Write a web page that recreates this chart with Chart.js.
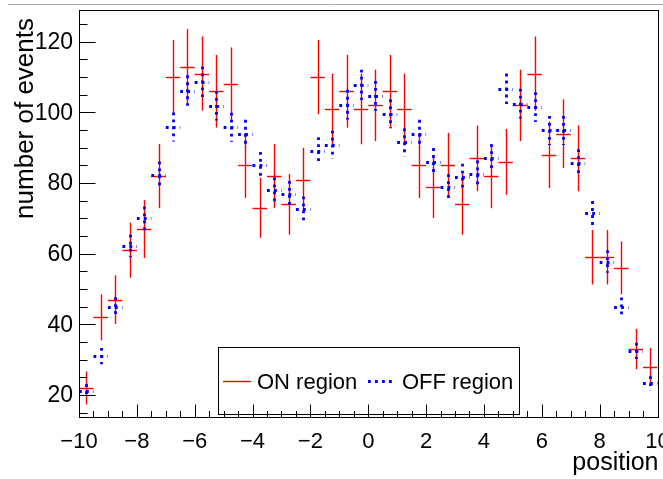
<!DOCTYPE html>
<html>
<head>
<meta charset="utf-8">
<script src="https://cdn.jsdelivr.net/npm/chart.js@4.4.0/dist/chart.umd.min.js"></script>
<style>
  html, body { margin: 0; padding: 0; background: #fff; }
</style>
</head>
<body>
<canvas id="myChart" width="663" height="479"></canvas>
<script>
// histogram bins: 40 bins of width 0.5 between -10 and 10
const binCenters = [-9.75, -9.25, -8.75, -8.25, -7.75, -7.25, -6.75, -6.25, -5.75, -5.25,
  -4.75, -4.25, -3.75, -3.25, -2.75, -2.25, -1.75, -1.25, -0.75, -0.25,
  0.25, 0.75, 1.25, 1.75, 2.25, 2.75, 3.25, 3.75, 4.25, 4.75,
  5.25, 5.75, 6.25, 6.75, 7.25, 7.75, 8.25, 8.75, 9.25, 9.75]
const binHalfWidth = 0.25

const onCounts = [22, 42, 47, 61, 67, 82, 110, 113, 111, 106,
  108, 85, 73, 82, 74, 81, 110, 101, 106, 101,
  102, 106, 101, 85, 79, 85, 74, 87, 82, 86,
  102, 111, 88, 94, 87, 59, 59, 56, 33, 28]
const onErrors = [4.7, 6.5, 6.9, 7.8, 8.2, 9.1, 10.5, 10.6, 10.5, 10.3,
  10.4, 9.2, 8.5, 9.1, 8.6, 9.0, 10.5, 10.0, 10.3, 10.0,
  10.1, 10.3, 10.0, 9.2, 8.9, 9.2, 8.6, 9.3, 9.1, 9.3,
  10.1, 10.5, 9.4, 9.7, 9.3, 7.7, 7.7, 7.5, 5.7, 5.3]

const offCounts = [21.2, 31, 45, 62.2, 70, 82.3, 95.9, 106.2, 108.7, 101.9,
  95.8, 93.9, 85, 78, 77, 72.7, 89.1, 90.8, 102.2, 107.8,
  104.7, 99.6, 91.5, 93.9, 86.1, 78.8, 81.8, 82.6, 87.1, 106.7,
  102.5, 101.5, 94.9, 94.9, 85.8, 71.4, 57.8, 44.8, 32.5, 23.3]
const offErrors = [1.9, 2.3, 2.7, 3.2, 3.4, 3.8, 4.1, 4.3, 4.3, 4.2,
  4.1, 4.0, 3.8, 3.6, 3.6, 3.5, 3.9, 4.0, 4.2, 4.3,
  4.2, 4.1, 4.0, 4.0, 3.8, 3.7, 3.7, 3.8, 3.9, 4.3,
  4.2, 4.2, 4.1, 4.1, 3.8, 3.5, 3.2, 2.8, 2.3, 2.0]

const xTickValues = [-10, -8, -6, -4, -2, 0, 2, 4, 6, 8, 10]
const xTickLabels = ['\u221210', '\u22128', '\u22126', '\u22124', '\u22122', '0', '2', '4', '6', '8', '10']
const yTickValues = [20, 40, 60, 80, 100, 120]
const yTickLabels = ['20', '40', '60', '80', '100', '120']

const seriesNames = ['ON region', 'OFF region']

const FONT = "'Liberation Sans', Arial, Helvetica, sans-serif"

function drawSeg (ctx, x1, y1, x2, y2) {
  ctx.beginPath()
  ctx.moveTo(x1, y1)
  ctx.lineTo(x2, y2)
  ctx.stroke()
}

function setStroke (ctx, ds) {
  ctx.strokeStyle = ds.borderColor
  ctx.lineWidth = ds.borderWidth
  ctx.setLineDash(ds.borderDash || [])
}

// ROOT-like error bars, frame, ticks and legend drawn on top of the chart
const rootStyle = {
  id: 'rootStyle',
  afterDatasetsDraw (chart) {
    const ctx = chart.ctx
    const x = chart.scales.x
    const y = chart.scales.y
    chart.data.datasets.forEach(ds => {
      ctx.save()
      setStroke(ctx, ds)
      ds.data.forEach(p => {
        const px = Math.round(x.getPixelForValue(p.x)) + 0.5
        const py = Math.round(y.getPixelForValue(p.y)) + 0.5
        drawSeg(ctx, x.getPixelForValue(p.x - binHalfWidth), py, x.getPixelForValue(p.x + binHalfWidth), py)
        drawSeg(ctx, px, y.getPixelForValue(p.y + p.err), px, y.getPixelForValue(p.y - p.err))
      })
      ctx.restore()
    })
  },
  afterDraw (chart) {
    const ctx = chart.ctx
    const x = chart.scales.x
    const y = chart.scales.y
    const a = chart.chartArea
    const L = Math.round(a.left) + 0.5
    const R = Math.round(a.right) + 0.5
    const T = Math.round(a.top) + 0.5
    const B = Math.round(a.bottom) - 0.5
    ctx.save()

    // pad line at top
    ctx.strokeStyle = '#a8a8a8'
    ctx.lineWidth = 1
    drawSeg(ctx, 8, 4.5, 663, 4.5)

    // frame
    ctx.strokeStyle = '#000'
    ctx.lineWidth = 1
    ctx.strokeRect(L, T, R - L, B - T)

    // y ticks (major every 20, minor every 5)
    for (let v = 15; v <= 125; v += 5) {
      const py = Math.round(y.getPixelForValue(v)) + 0.5
      const len = yTickValues.includes(v) ? 16 : 8
      drawSeg(ctx, L, py, L + len, py)
    }
    // x ticks (major every 2, minor every 0.5)
    for (let v = -10; v <= 10; v += 0.5) {
      const px = Math.round(x.getPixelForValue(v)) + 0.5
      const len = xTickValues.includes(v) ? 13 : 6.5
      drawSeg(ctx, px, B, px, B - len)
    }

    // tick labels
    ctx.fillStyle = '#000'
    ctx.font = '23px ' + FONT
    ctx.textAlign = 'right'
    ctx.textBaseline = 'middle'
    yTickValues.forEach((v, i) => {
      ctx.fillText(yTickLabels[i], a.left - 6, y.getPixelForValue(v) + 1)
    })
    ctx.font = '22px ' + FONT
    ctx.textAlign = 'center'
    ctx.textBaseline = 'middle'
    xTickValues.forEach((v, i) => {
      ctx.fillText(xTickLabels[i], x.getPixelForValue(v), 442)
    })

    // axis titles
    ctx.font = '25px ' + FONT
    ctx.textAlign = 'right'
    ctx.textBaseline = 'alphabetic'
    ctx.fillText('position', a.right + 1, 470)
    ctx.save()
    ctx.translate(33, 18)
    ctx.rotate(-Math.PI / 2)
    ctx.font = '26px ' + FONT
    ctx.fillText('number of events', 0, 0)
    ctx.restore()

    // legend
    ctx.strokeStyle = '#000'
    ctx.lineWidth = 1
    ctx.strokeRect(218.5, 347.5, 301, 67)
    const ly = 381.5
    const dsOn = chart.data.datasets[0]
    const dsOff = chart.data.datasets[1]
    ctx.save()
    setStroke(ctx, dsOn)
    drawSeg(ctx, 223, ly, 251, ly)
    setStroke(ctx, dsOff)
    drawSeg(ctx, 368, ly, 395, ly)
    ctx.restore()
    ctx.font = '22px ' + FONT
    ctx.textAlign = 'left'
    ctx.textBaseline = 'middle'
    ctx.fillText(seriesNames[0], 257, ly + 1)
    ctx.fillText(seriesNames[1], 402, ly + 1)

    ctx.restore()
  }
}

const ctx = document.getElementById('myChart').getContext('2d')
const myChart = new Chart(ctx, {
  type: 'scatter',
  data: {
    datasets: [
      {
        label: seriesNames[0],
        data: binCenters.map((c, i) => ({ x: c, y: onCounts[i], err: onErrors[i] })),
        borderColor: 'rgb(255, 0, 0)',
        borderWidth: 1.4,
        pointRadius: 0,
        showLine: false
      },
      {
        label: seriesNames[1],
        data: binCenters.map((c, i) => ({ x: c, y: offCounts[i], err: offErrors[i] })),
        borderColor: 'rgb(0, 0, 255)',
        borderWidth: 2.8,
        borderDash: [2.8, 4.2],
        pointRadius: 0,
        showLine: false
      }
    ]
  },
  options: {
    responsive: false,
    animation: false,
    devicePixelRatio: 1,
    layout: { padding: { left: 79, top: 10, right: 5.5, bottom: 61 } },
    plugins: { legend: { display: false }, tooltip: { enabled: false } },
    scales: {
      x: { type: 'linear', min: -10, max: 10, display: false },
      y: { type: 'linear', min: 13.5, max: 129, display: false }
    }
  },
  plugins: [rootStyle]
})
</script>
</body>
</html>
